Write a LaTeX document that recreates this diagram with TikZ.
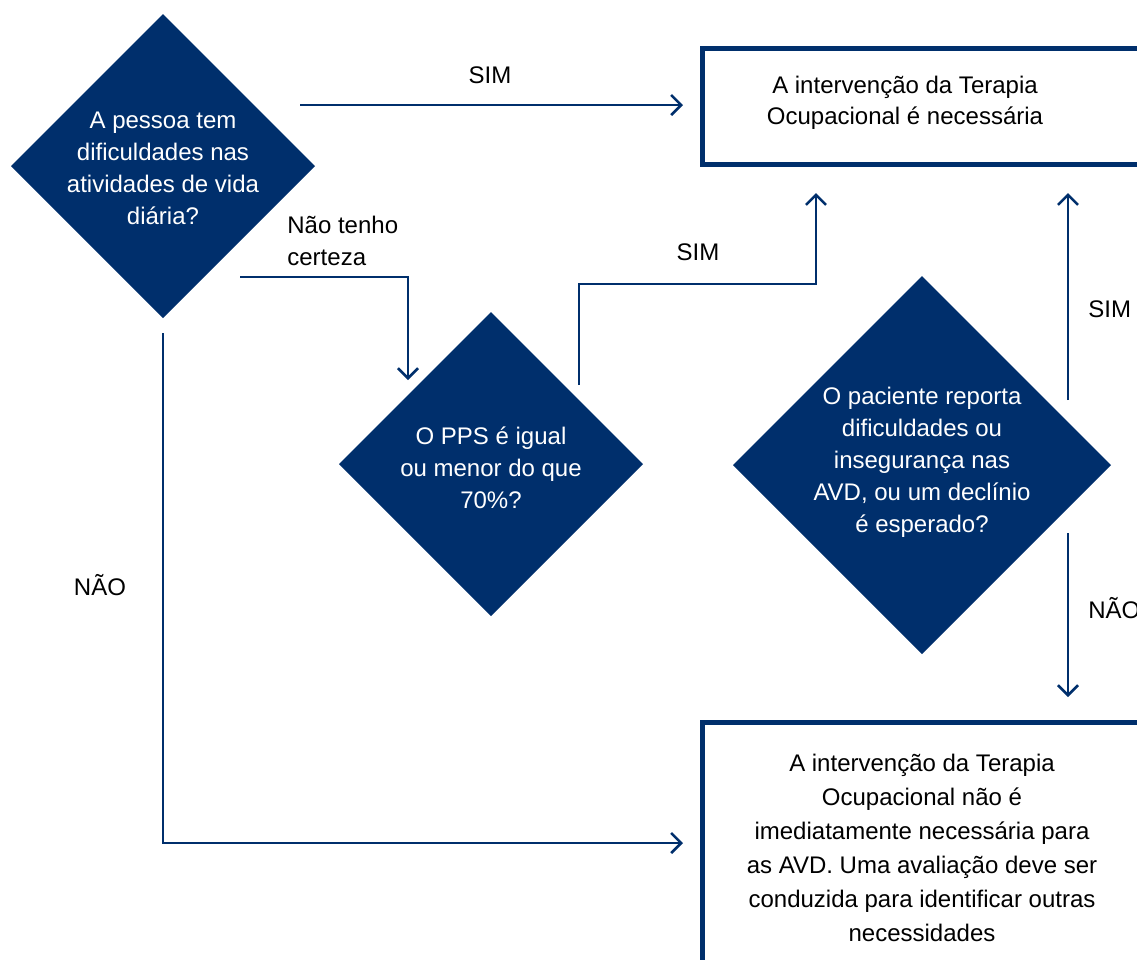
\documentclass[tikz,border=0pt]{standalone}
\usepackage{fontspec}
\setmainfont{Liberation Sans}
\usetikzlibrary{arrows.meta,shapes.geometric,calc}
\definecolor{avdnavy}{RGB}{0,47,108}

\begin{document}
\begin{tikzpicture}[x=0.5pt,y=0.5pt,
  font=\fontsize{12pt}{16pt}\selectfont,
  decision/.style={diamond,aspect=1,fill=avdnavy,inner sep=0pt,outer sep=0pt},
  qtext/.style={text=white,align=center,inner sep=0pt},
  outcome/.style={draw=avdnavy,line width=2.5pt,fill=white,inner sep=0pt,outer sep=0pt},
  otext/.style={text=black,align=center,inner sep=0pt},
  answer/.style={text=black,inner sep=0pt},
  flow/.style={draw=avdnavy,line width=1.3pt,-{Straight Barb[length=5pt,width=10pt,line width=1.3pt]}}]
\useasboundingbox (0,0) rectangle (1137,-960);
\clip (0,0) rectangle (1137,-960);
\node[decision,minimum size=152pt] (d1) at (163,-166) {};
\node[decision,minimum size=152pt] (d2) at (491,-464) {};
\node[decision,minimum size=189pt] (d3) at (922,-465) {};
\node[outcome,anchor=west,minimum width=300pt,minimum height=58pt] (yes) at (702.5,-106.5) {};
\node[outcome,anchor=north west,minimum width=300pt,minimum height=125pt] (no) at (702.5,-722.5) {};
\node[qtext] (d1txt) at (163,-168) {A pessoa tem\\dificuldades nas\\atividades de vida\\diária?};
\node[qtext] (d2txt) at (491,-468) {O PPS é igual\\ou menor do que\\70\%?};
\node[qtext] (d3txt) at (922,-462) {O paciente reporta\\dificuldades ou\\insegurança nas\\AVD, ou um declínio\\é esperado?};
\node[otext,font=\fontsize{12pt}{15.5pt}\selectfont] (yestxt) at (905,-103) {A intervenção da Terapia\\Ocupacional é necessária};
\node[otext,font=\fontsize{12pt}{17pt}\selectfont] (notxt) at (922,-848) {A intervenção da Terapia\\Ocupacional não é\\imediatamente necessária para\\as AVD. Uma avaliação deve ser\\conduzida para identificar outras\\necessidades};
\node[answer] (simtop) at (490,-75) {SIM};
\node[answer,anchor=west,align=left] (unsure) at (287,-241) {Não tenho\\certeza};
\node[answer] (simmid) at (698,-252) {SIM};
\node[answer,anchor=west] (simright) at (1088,-309) {SIM};
\node[answer,anchor=west] (naoright) at (1088,-608) {NÃO};
\node[answer] (naoleft) at (100,-585) {NÃO};
\draw[flow] ($(d1.east)+(-15,61)$) -- ($(yes.west)+(-19.5,1.5)$);
\draw[flow] ($(d1.center)+(77,-111)$) -| ($(d2.north)+(-83,-68)$);
\draw[flow] ($(d2.center)+(88,79)$) -- ++(0,101) -| ($(yes.south west)+(113.5,-28.5)$);
\draw[flow] ($(d3.center)+(146,65)$) -- ($(yes.south west)+(365.5,-28.5)$);
\draw[flow] ($(d3.center)+(146,-68)$) -- ($(no.north west)+(365.5,25.5)$);
\draw[flow] ($(d1.south)+(0,-15)$) |- ($(no.north west)+(-19.5,-120.5)$);
\end{tikzpicture}
\end{document}
